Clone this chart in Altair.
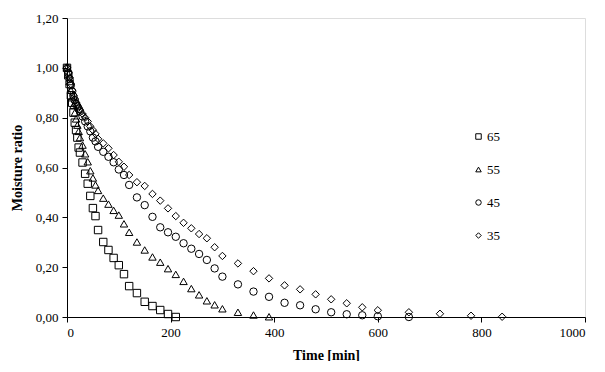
import altair as alt
import pandas as pd

series_names = ["65", "55", "45", "35"]

t65 = [0, 2.5, 5, 7.5, 10, 12.5, 15, 17.5, 20, 22.5, 25, 30, 35, 40, 45, 50, 55, 60, 70, 80,
       90, 100, 110, 120, 135, 150, 165, 180, 195, 210]
mr65 = [1.0, 0.97, 0.935, 0.89, 0.86, 0.82, 0.78, 0.75, 0.72, 0.68, 0.66, 0.62, 0.575, 0.535,
        0.486, 0.437, 0.405, 0.349, 0.301, 0.269, 0.237, 0.208, 0.172, 0.124, 0.096, 0.061,
        0.044, 0.028, 0.012, 0.0]

t55 = [0, 2.5, 5, 7.5, 10, 12.5, 15, 17.5, 20, 22.5, 25, 30, 35, 40, 45, 50, 55, 60, 70, 80,
       90, 100, 110, 120, 135, 150, 165, 180, 195, 210, 225, 240, 255, 270, 285, 300, 330, 360, 390]
mr55 = [1.0, 0.975, 0.945, 0.91, 0.88, 0.85, 0.82, 0.795, 0.77, 0.745, 0.72, 0.69, 0.655, 0.623,
        0.587, 0.558, 0.53, 0.508, 0.477, 0.453, 0.428, 0.409, 0.374, 0.340, 0.301, 0.269, 0.241,
        0.220, 0.194, 0.171, 0.143, 0.114, 0.089, 0.065, 0.049, 0.033, 0.019, 0.008, 0.001]

t45 = [0, 2.5, 5, 7.5, 10, 12.5, 15, 17.5, 20, 22.5, 25, 30, 35, 40, 45, 50, 55, 60, 70, 80,
       90, 100, 110, 120, 135, 150, 165, 180, 195, 210, 225, 240, 255, 270, 285, 300, 330, 360,
       390, 420, 450, 480, 510, 540, 570, 600, 660]
mr45 = [1.0, 0.98, 0.955, 0.93, 0.905, 0.885, 0.87, 0.855, 0.845, 0.835, 0.825, 0.805, 0.785,
        0.765, 0.745, 0.72, 0.705, 0.683, 0.663, 0.643, 0.621, 0.592, 0.57, 0.53, 0.48, 0.449,
        0.402, 0.36, 0.34, 0.322, 0.296, 0.274, 0.253, 0.229, 0.195, 0.162, 0.131, 0.102, 0.081,
        0.057, 0.047, 0.031, 0.019, 0.011, 0.007, 0.003, 0.0]

t35 = [0, 2.5, 5, 7.5, 10, 12.5, 15, 17.5, 20, 22.5, 25, 30, 35, 40, 45, 50, 55, 60, 70, 80,
       90, 100, 110, 120, 135, 150, 165, 180, 195, 210, 225, 240, 255, 270, 285, 300, 330, 360,
       390, 420, 450, 480, 510, 540, 570, 600, 660, 720, 780, 840]
mr35 = [1.0, 0.98, 0.96, 0.935, 0.91, 0.89, 0.875, 0.86, 0.85, 0.84, 0.83, 0.815, 0.80, 0.785,
        0.765, 0.75, 0.735, 0.715, 0.697, 0.677, 0.65, 0.623, 0.603, 0.57, 0.541, 0.526, 0.494,
        0.467, 0.436, 0.405, 0.378, 0.356, 0.333, 0.316, 0.28, 0.245, 0.215, 0.184, 0.155, 0.127,
        0.111, 0.091, 0.071, 0.055, 0.039, 0.027, 0.019, 0.013, 0.005, 0.001]

rows = []
for name, ts, ms in zip(series_names, [t65, t55, t45, t35], [mr65, mr55, mr45, mr35]):
    for t, m in zip(ts, ms):
        rows.append({"Temp": name, "Time": t, "MR": m})
df = pd.DataFrame(rows)

serif = "'Liberation Serif', 'DejaVu Serif', serif"

chart = alt.Chart(df).mark_point(filled=False, strokeWidth=1, opacity=1, size=55).encode(
    x=alt.X("Time:Q", title="Time [min]",
            scale=alt.Scale(domain=[0, 1000], nice=False),
            axis=alt.Axis(values=[0, 200, 400, 600, 800, 1000], grid=False, format="d",
                          domainColor="black", tickColor="black", tickSize=5,
                          labelFont=serif, labelFontSize=13, labelColor="black",
                          labelPadding=4, titleFont=serif, titleFontSize=14,
                          titleFontWeight="bold", titleColor="black", titlePadding=9)),
    y=alt.Y("MR:Q", title="Moisture ratio",
            scale=alt.Scale(domain=[0, 1.2], nice=False),
            axis=alt.Axis(values=[0, 0.2, 0.4, 0.6, 0.8, 1.0, 1.2], grid=False,
                          labelExpr="replace(format(datum.value, '.2f'), '.', ',')",
                          domainColor="black", tickColor="black", tickSize=5,
                          labelFont=serif, labelFontSize=13, labelColor="black",
                          labelPadding=4, titleFont=serif, titleFontSize=14,
                          titleFontWeight="bold", titleColor="black", titlePadding=11)),
    shape=alt.Shape("Temp:N",
                    scale=alt.Scale(domain=series_names,
                                    range=["square", "triangle-up", "circle", "diamond"]),
                    legend=alt.Legend(title=None, orient="none", legendX=405, legendY=112,
                                      labelFont=serif, labelFontSize=13, labelColor="black",
                                      symbolSize=30, symbolStrokeColor="black",
                                      symbolFillColor="transparent",
                                      symbolStrokeWidth=1, rowPadding=19, labelOffset=2)),
    color=alt.value("black"),
).properties(
    width=518, height=299,
    padding={"left": 59, "top": 10, "right": 4, "bottom": 44},
    autosize=alt.AutoSizeParams(type="none"),
).configure_view(stroke=None).configure(background="white", font=serif)

chart.save("out.html", embed_options={"renderer": "svg", "actions": False})
